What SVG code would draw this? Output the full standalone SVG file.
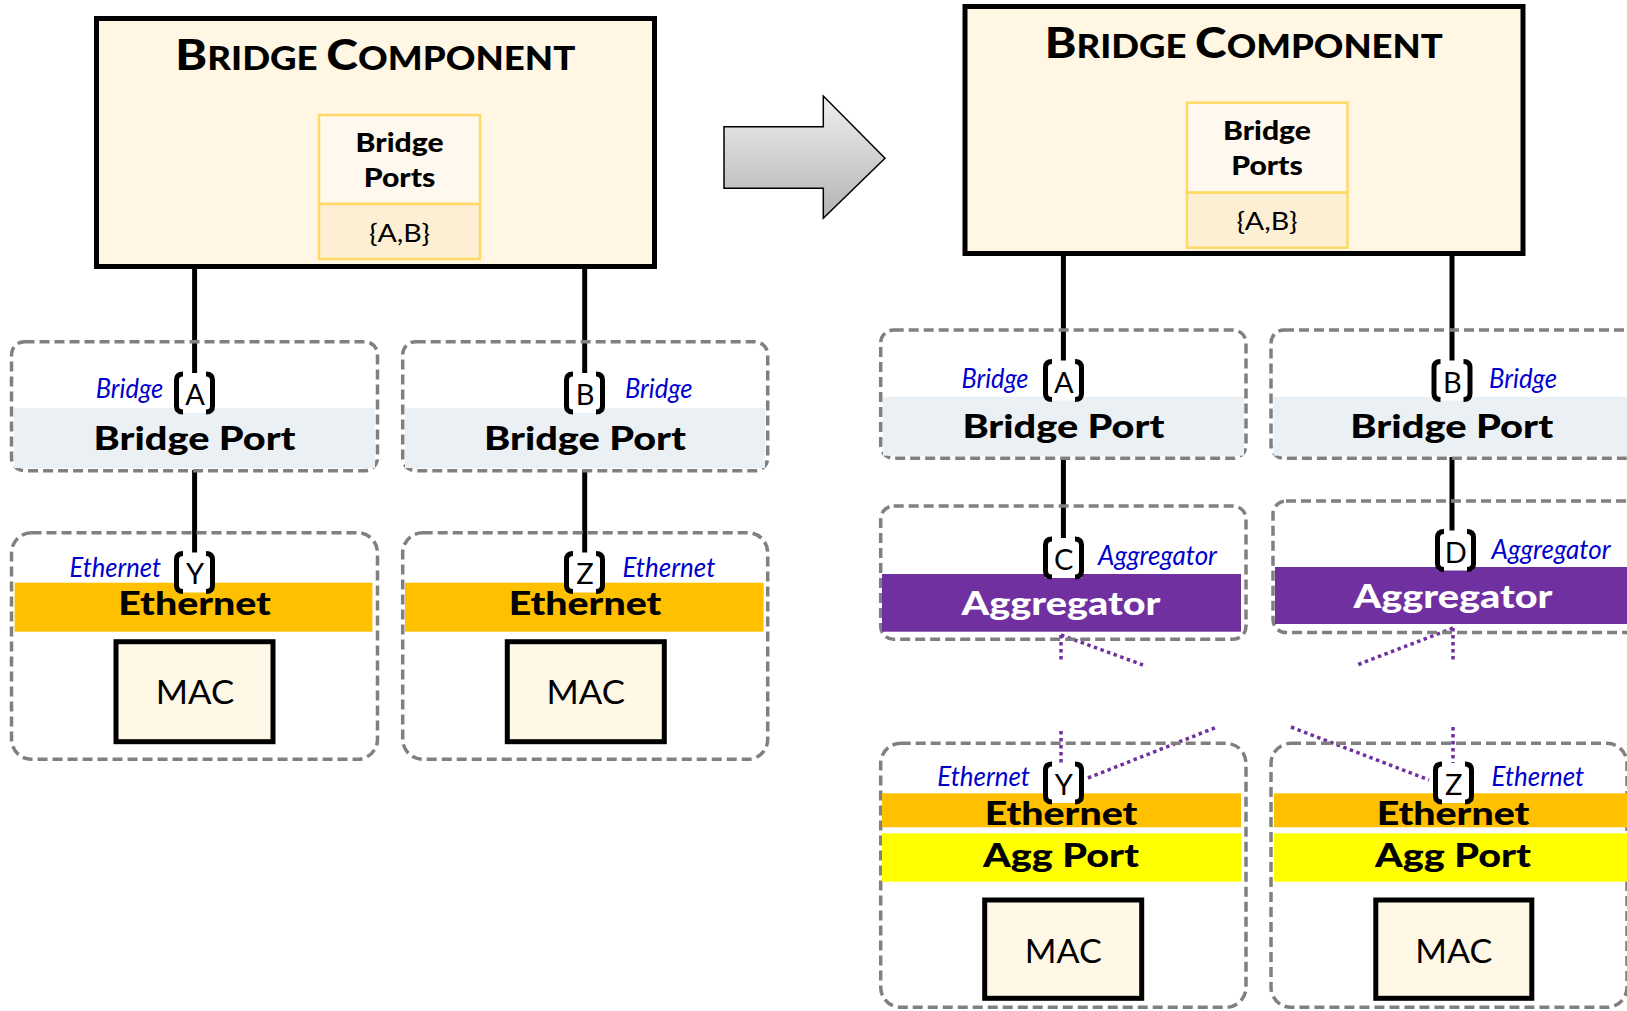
<svg xmlns="http://www.w3.org/2000/svg" width="1627" height="1011" viewBox="0 0 1627 1011">
<style>
text{font-family:Lato,"Open Sans","Liberation Sans",sans-serif}
.comp{fill:#FFF7E3;stroke:#000;stroke-width:5}
.pt{fill:#FFF8EF;stroke:#FFD966;stroke-width:2.5}
.pl{fill:#FDEFD4;stroke:#FFD966;stroke-width:2.5}
.dash{fill:none;stroke:#808080;stroke-width:3.5;stroke-dasharray:10 5}
.bpband{fill:#EBF0F4}
.eth{fill:#FFC000}
.agp{fill:#FFFF00}
.agg{fill:#7030A0}
.mac{fill:#FFF8E7;stroke:#000;stroke-width:5}
.title{font-weight:900;fill:#000}
.b{font-weight:900;font-size:32px;fill:#000;text-anchor:middle}
.bs{font-weight:900;font-size:26px;fill:#000;text-anchor:middle}
.r{font-size:25px;fill:#000;text-anchor:middle}
.mact{font-size:33px;fill:#000;text-anchor:middle}
.it{font-style:italic;fill:#0000CC;font-size:27px}
.lt{font-size:29px;fill:#000;text-anchor:middle}
.wt{font-weight:900;font-size:32px;fill:#fff;text-anchor:middle}
.conn{stroke:#000;stroke-width:5;fill:none}
.dot{stroke:#7030A0;stroke-width:3.5;stroke-dasharray:3.5 3.5;fill:none}
.brk{fill:none;stroke:#000;stroke-width:5}
</style>
<defs>
<linearGradient id="ag" x1="0" y1="0" x2="0" y2="1">
<stop offset="0" stop-color="#EFEFEF"/>
<stop offset="1" stop-color="#B3B3B3"/>
</linearGradient>
<g id="bk">
<rect x="3" y="1" width="37" height="40" fill="#fff"/>
<path class="brk" d="M10,2 Q3.5,2 3.5,8 V34 Q3.5,40 10,40"/>
<path class="brk" d="M33,2 Q39.5,2 39.5,8 V34 Q39.5,40 33,40"/>
</g>
</defs>

<!-- arrow -->
<g id="arrow">
<path d="M724,126.7 H823.3 V96 L885,158.3 L823.3,218.3 V188.3 H724 Z" fill="url(#ag)" stroke="#000" stroke-width="1.5"/>
</g>

<!-- connectors -->
<g id="connectors">
<line class="conn" x1="194.6" y1="266" x2="194.6" y2="374"/>
<line class="conn" x1="194.6" y1="470" x2="194.6" y2="553"/>
<line class="conn" x1="584.7" y1="266" x2="584.7" y2="374"/>
<line class="conn" x1="584.7" y1="470" x2="584.7" y2="553"/>
<line class="conn" x1="1063.4" y1="253" x2="1063.4" y2="361"/>
<line class="conn" x1="1063.4" y1="457" x2="1063.4" y2="539"/>
<line class="conn" x1="1452" y1="253" x2="1452" y2="361"/>
<line class="conn" x1="1452" y1="457" x2="1452" y2="531"/>
<line class="dot" x1="1061" y1="635" x2="1061" y2="663"/>
<line class="dot" x1="1061" y1="635" x2="1143" y2="665"/>
<line class="dot" x1="1061" y1="731" x2="1061" y2="763"/>
<line class="dot" x1="1088" y1="778" x2="1217" y2="727"/>
<line class="dot" x1="1453" y1="628" x2="1453" y2="663"/>
<line class="dot" x1="1453" y1="628" x2="1357" y2="665"/>
<line class="dot" x1="1453" y1="727" x2="1453" y2="763"/>
<line class="dot" x1="1291" y1="727" x2="1429" y2="780"/>
</g>

<!-- LEFT: bridge component -->
<g id="bc-left">
<rect class="comp" x="96.5" y="18.5" width="558" height="248"/>
<text class="title" x="375.3" y="70" text-anchor="middle" textLength="400" lengthAdjust="spacingAndGlyphs"><tspan font-size="42">B</tspan><tspan font-size="32">RIDGE </tspan><tspan font-size="42">C</tspan><tspan font-size="32">OMPONENT</tspan></text>
<rect class="pt" x="319" y="115" width="161" height="89"/>
<rect class="pl" x="319" y="204" width="161" height="55"/>
<text class="bs" x="399.6" y="152" textLength="88" lengthAdjust="spacingAndGlyphs">Bridge</text>
<text class="bs" x="399.6" y="187" textLength="71.6" lengthAdjust="spacingAndGlyphs">Ports</text>
<text class="r" x="399.6" y="242" textLength="61" lengthAdjust="spacingAndGlyphs">{A,B}</text>
</g>

<g id="bp-a-left">
<rect class="dash" x="11.5" y="341.7" width="366" height="129" rx="13"/>
<rect class="bpband" x="14" y="408" width="361" height="60"/>
<text class="it" x="95.7" y="398" textLength="67.5" lengthAdjust="spacingAndGlyphs">Bridge</text>
<use href="#bk" x="173" y="372"/>
<text class="lt" x="195" y="405">A</text>
<text class="b" x="194.6" y="450" textLength="202" lengthAdjust="spacingAndGlyphs">Bridge Port</text>
</g>

<g id="bp-b-left">
<rect class="dash" x="402.7" y="341.7" width="365" height="129" rx="13"/>
<rect class="bpband" x="405" y="408" width="360" height="60"/>
<text class="it" x="625" y="398" textLength="67.5" lengthAdjust="spacingAndGlyphs">Bridge</text>
<use href="#bk" x="563" y="372"/>
<text class="lt" x="585" y="405">B</text>
<text class="b" x="585" y="450" textLength="202" lengthAdjust="spacingAndGlyphs">Bridge Port</text>
</g>

<g id="eth-y-left">
<rect class="dash" x="11.5" y="532.7" width="366" height="226.6" rx="20"/>
<text class="it" x="69.6" y="577" textLength="91.5" lengthAdjust="spacingAndGlyphs">Ethernet</text>
<rect class="eth" x="14.6" y="582.7" width="357.8" height="49"/>
<use href="#bk" x="173" y="551.5"/>
<text class="lt" x="195" y="584">Y</text>
<text class="b" x="194.6" y="615" textLength="152.7" lengthAdjust="spacingAndGlyphs">Ethernet</text>
<rect class="mac" x="116" y="641.7" width="157" height="100"/>
<text class="mact" x="195" y="704" textLength="78.4" lengthAdjust="spacingAndGlyphs">MAC</text>
</g>

<g id="eth-z-left">
<rect class="dash" x="402.7" y="532.7" width="365" height="226.6" rx="20"/>
<text class="it" x="622.4" y="577" textLength="93" lengthAdjust="spacingAndGlyphs">Ethernet</text>
<rect class="eth" x="405" y="582.7" width="358.6" height="49"/>
<use href="#bk" x="563" y="551.5"/>
<text class="lt" x="585" y="584">Z</text>
<text class="b" x="585" y="615" textLength="152.7" lengthAdjust="spacingAndGlyphs">Ethernet</text>
<rect class="mac" x="507.3" y="641.7" width="157" height="100"/>
<text class="mact" x="585.8" y="704" textLength="78.4" lengthAdjust="spacingAndGlyphs">MAC</text>
</g>

<!-- RIGHT: bridge component -->
<g id="bc-right">
<rect class="comp" x="965" y="6.5" width="558" height="247"/>
<text class="title" x="1243.8" y="58.3" text-anchor="middle" textLength="398" lengthAdjust="spacingAndGlyphs"><tspan font-size="42">B</tspan><tspan font-size="32">RIDGE </tspan><tspan font-size="42">C</tspan><tspan font-size="32">OMPONENT</tspan></text>
<rect class="pt" x="1187" y="102.7" width="160.5" height="90"/>
<rect class="pl" x="1187" y="192.7" width="160.5" height="55"/>
<text class="bs" x="1267" y="140" textLength="88" lengthAdjust="spacingAndGlyphs">Bridge</text>
<text class="bs" x="1267" y="175" textLength="71.6" lengthAdjust="spacingAndGlyphs">Ports</text>
<text class="r" x="1267" y="230" textLength="61" lengthAdjust="spacingAndGlyphs">{A,B}</text>
</g>

<g id="bp-a-right">
<rect class="dash" x="880.7" y="330" width="365.3" height="128.3" rx="13"/>
<rect class="bpband" x="883" y="396.7" width="361" height="59"/>
<text class="it" x="961.5" y="388" textLength="67" lengthAdjust="spacingAndGlyphs">Bridge</text>
<use href="#bk" x="1042" y="359.5"/>
<text class="lt" x="1063.8" y="392.5">A</text>
<text class="b" x="1063.4" y="438" textLength="202" lengthAdjust="spacingAndGlyphs">Bridge Port</text>
</g>

<g id="bp-b-right">
<rect class="dash" x="1271" y="330" width="366" height="128.3" rx="13"/>
<rect class="bpband" x="1273.5" y="396.7" width="361" height="59"/>
<text class="it" x="1489" y="388" textLength="68" lengthAdjust="spacingAndGlyphs">Bridge</text>
<use href="#bk" x="1430.5" y="359.5"/>
<text class="lt" x="1452.3" y="392.5">B</text>
<text class="b" x="1451.7" y="438" textLength="203" lengthAdjust="spacingAndGlyphs">Bridge Port</text>
</g>

<g id="agg-c">
<rect class="dash" x="880.7" y="506" width="365.3" height="133.3" rx="13"/>
<text class="it" x="1098" y="565" font-size="25" textLength="119" lengthAdjust="spacingAndGlyphs">Aggregator</text>
<rect class="agg" x="882" y="574" width="359" height="57.7"/>
<use href="#bk" x="1042" y="537"/>
<text class="lt" x="1063.8" y="570">C</text>
<text class="wt" x="1061" y="615" textLength="199" lengthAdjust="spacingAndGlyphs">Aggregator</text>
</g>

<g id="agg-d">
<rect class="dash" x="1273" y="501" width="366" height="131.5" rx="13"/>
<text class="it" x="1491.6" y="559" font-size="25" textLength="119" lengthAdjust="spacingAndGlyphs">Aggregator</text>
<rect class="agg" x="1275" y="567" width="355" height="57"/>
<use href="#bk" x="1434" y="529.5"/>
<text class="lt" x="1455.8" y="562.5">D</text>
<text class="wt" x="1453" y="608" textLength="199" lengthAdjust="spacingAndGlyphs">Aggregator</text>
</g>

<g id="aggport-y">
<rect class="dash" x="880.7" y="743.3" width="365.3" height="264" rx="20"/>
<text class="it" x="937.3" y="786" font-size="26" textLength="92.7" lengthAdjust="spacingAndGlyphs">Ethernet</text>
<rect class="eth" x="882" y="793.3" width="359" height="34"/>
<rect class="agp" x="882" y="833.3" width="359" height="48.4"/>
<use href="#bk" x="1042" y="762"/>
<text class="lt" x="1063.8" y="795">Y</text>
<text class="b" x="1061" y="825" textLength="152.7" lengthAdjust="spacingAndGlyphs">Ethernet</text>
<text class="b" x="1061" y="866.7" textLength="156" lengthAdjust="spacingAndGlyphs">Agg Port</text>
<rect class="mac" x="984.7" y="900" width="157" height="98.3"/>
<text class="mact" x="1063.3" y="962.7" textLength="77" lengthAdjust="spacingAndGlyphs">MAC</text>
</g>

<g id="aggport-z">
<rect class="dash" x="1271" y="743.3" width="356" height="264" rx="20"/>
<text class="it" x="1491.6" y="786" font-size="26" textLength="92.7" lengthAdjust="spacingAndGlyphs">Ethernet</text>
<rect class="eth" x="1274" y="793.3" width="360" height="34"/>
<rect class="agp" x="1274" y="833.3" width="360" height="48.4"/>
<use href="#bk" x="1432" y="762"/>
<text class="lt" x="1453.8" y="795">Z</text>
<text class="b" x="1453" y="825" textLength="152.7" lengthAdjust="spacingAndGlyphs">Ethernet</text>
<text class="b" x="1453" y="866.7" textLength="156" lengthAdjust="spacingAndGlyphs">Agg Port</text>
<rect class="mac" x="1375.8" y="900" width="156" height="98.3"/>
<text class="mact" x="1453.8" y="962.7" textLength="77" lengthAdjust="spacingAndGlyphs">MAC</text>
</g>
</svg>
